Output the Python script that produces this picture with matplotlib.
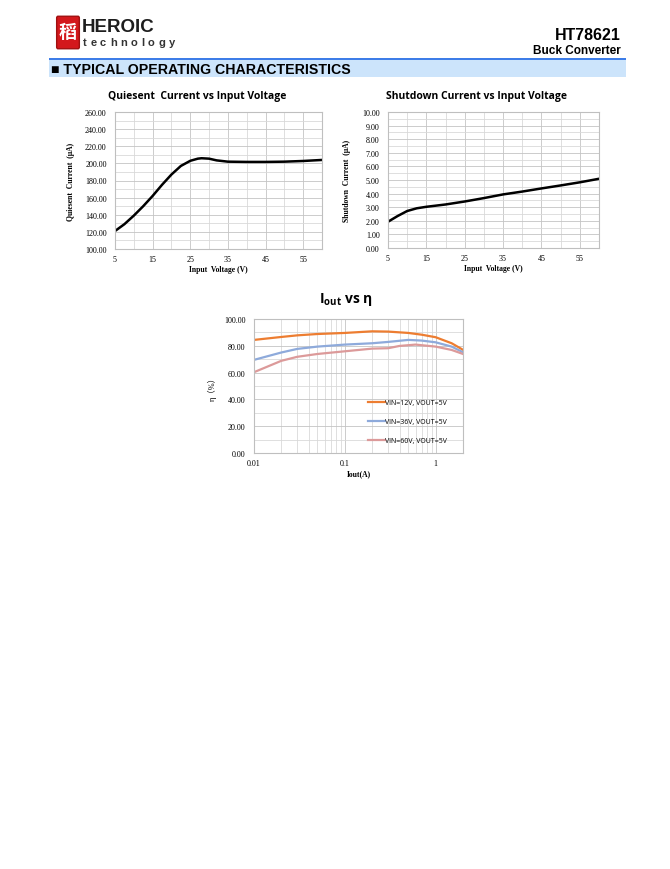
import matplotlib
matplotlib.use("Agg")
import matplotlib.pyplot as plt
from matplotlib.patches import FancyBboxPatch, Rectangle
from matplotlib.ticker import MultipleLocator, FixedLocator, NullFormatter

# Quiescent current vs input voltage
vin_q = [5, 7.5, 10, 12.5, 15, 17.5, 20, 22.5, 25, 27, 28, 30, 32, 35, 40, 45, 50, 55, 60]
iq = [121, 129, 139, 150, 162, 175, 187, 197, 203, 205.5, 206, 205.5, 203.5, 202, 201.7, 201.7, 202, 202.8, 204]

# Shutdown current vs input voltage
vin_sd = [5, 7.5, 10, 12.5, 15, 20, 25, 30, 35, 40, 45, 50, 55, 60]
isd = [1.93, 2.35, 2.72, 2.92, 3.03, 3.2, 3.42, 3.67, 3.94, 4.15, 4.38, 4.6, 4.83, 5.09]

# Efficiency vs output current
iout = [0.01, 0.02, 0.03, 0.05, 0.1, 0.2, 0.3, 0.5, 0.7, 1, 1.5, 2]
eff_12v = [84.4, 86.6, 87.8, 88.8, 89.6, 90.8, 90.6, 89.6, 88.3, 86.4, 81.9, 77.0]
eff_36v = [69.5, 75.0, 77.7, 79.4, 80.9, 81.9, 82.9, 84.4, 83.9, 82.6, 79.4, 75.2]
iout_60 = [0.01, 0.02, 0.03, 0.05, 0.1, 0.2, 0.3, 0.4, 0.6, 1, 1.5, 2]
eff_60v = [60.3, 68.8, 71.8, 73.9, 75.9, 77.9, 78.2, 79.9, 80.9, 79.4, 76.9, 73.9]
labels = ["VIN=12V, VOUT=5V", "VIN=36V, VOUT=5V", "VIN=60V, VOUT=5V"]

W, H = 670, 870
fig = plt.figure(figsize=(W / 100, H / 100), dpi=100)
fig.patch.set_facecolor("white")


def fx(x):
    return x / W


def fy(y):
    return 1 - y / H


def add_ax(l, t, r, b):
    return fig.add_axes([fx(l), fy(b), (r - l) / W, (b - t) / H])


serif = "Liberation Serif"
arial = "Liberation Sans"
calibri = ["Open Sans", "DejaVu Sans"]
plt.rcParams["mathtext.fontset"] = "custom"
plt.rcParams["mathtext.bf"] = "Open Sans:bold"
plt.rcParams["mathtext.rm"] = "Open Sans"

# header
logo = FancyBboxPatch((fx(58), fy(48)), 20 / W, 29 / H, boxstyle="round,pad=0.002",
                      transform=fig.transFigure, facecolor="#d3181c", edgecolor="#a01010")
fig.patches.append(logo)
fig.text(fx(68), fy(33), "稻", family=["Noto Sans CJK SC"], color="white",
         fontsize=13, ha="center", va="center", weight="bold")
fig.text(fx(82), fy(28), "HEROIC", family=arial, weight="bold", fontsize=13.5,
         color="#1e1e1e", va="center")

# letter-spaced "technology"
renderer = fig.canvas.get_renderer()
xpos = 83.0
for ch in "technology":
    t = fig.text(fx(xpos), fy(43), ch, family=arial, weight="bold", fontsize=8,
                 color="#333333", va="center")
    xpos += t.get_window_extent(renderer).width + 3.6

fig.text(fx(621), fy(35), "HT78621", family=arial, weight="bold", fontsize=11.5,
         ha="right", va="center")
fig.text(fx(621), fy(51), "Buck Converter", family=arial, weight="bold", fontsize=8.5,
         ha="right", va="center")
fig.patches.append(Rectangle((fx(49), fy(78)), 577 / W, 18 / H, transform=fig.transFigure,
                             facecolor="#cce4fb", edgecolor="none"))
fig.patches.append(Rectangle((fx(49), fy(60.5)), 577 / W, 1.6 / H, transform=fig.transFigure,
                             facecolor="#3d7de8", edgecolor="none"))
fig.text(fx(51), fy(69.5), "\u25A0 TYPICAL OPERATING CHARACTERISTICS", family=arial,
         weight="bold", fontsize=10.2, va="center")


def style(ax):
    for s in ax.spines.values():
        s.set_color("#bfbfbf")
        s.set_linewidth(0.8)
    ax.tick_params(which="both", length=0, labelsize=5.8)
    ax.tick_params(axis="y", pad=6)
    ax.tick_params(axis="x", pad=4)
    for lab in ax.get_xticklabels() + ax.get_yticklabels():
        lab.set_family(serif)
    ax.grid(True, which="major", color="#c4c4c4", lw=0.6)
    ax.grid(True, which="minor", color="#d9d9d9", lw=0.6)
    ax.set_axisbelow(True)


# chart 1
ax1 = add_ax(115, 113, 322, 250)
ax1.plot(vin_q, iq, color="black", lw=1.8)
ax1.set_xlim(5, 60)
ax1.set_ylim(100, 260)
ax1.xaxis.set_major_locator(FixedLocator([5, 15, 25, 35, 45, 55]))
ax1.xaxis.set_minor_locator(FixedLocator([10, 20, 30, 40, 50, 60]))
ax1.yaxis.set_major_locator(MultipleLocator(20))
ax1.yaxis.set_minor_locator(MultipleLocator(10))
ax1.set_yticklabels([f"{v:.2f}" for v in ax1.get_yticks()])
style(ax1)
ax1.set_xlabel("Input  Voltage (V)", family=serif, weight="bold", fontsize=5.5, labelpad=2)
ax1.set_ylabel("Quiesent  Current  (\u03bcA)", family=serif, weight="bold", fontsize=5.5, labelpad=7)
fig.text(fx(197), fy(97), "Quiesent  Current vs Input Voltage", family=calibri,
         weight="bold", fontsize=7.5, ha="center", va="center")

# chart 2
ax2 = add_ax(388, 113, 599, 249)
ax2.plot(vin_sd, isd, color="black", lw=1.8)
ax2.set_xlim(5, 60)
ax2.set_ylim(0, 10)
ax2.xaxis.set_major_locator(FixedLocator([5, 15, 25, 35, 45, 55]))
ax2.xaxis.set_minor_locator(FixedLocator([10, 20, 30, 40, 50, 60]))
ax2.yaxis.set_major_locator(MultipleLocator(1))
ax2.yaxis.set_minor_locator(MultipleLocator(0.5))
ax2.set_yticklabels([f"{v:.2f}" for v in ax2.get_yticks()])
style(ax2)
ax2.set_xlabel("Input  Voltage (V)", family=serif, weight="bold", fontsize=5.5, labelpad=2)
ax2.set_ylabel("Shutdown  Current  (\u03bcA)", family=serif, weight="bold", fontsize=5.5, labelpad=8)
fig.text(fx(476), fy(97), "Shutdown Current vs Input Voltage", family=calibri,
         weight="bold", fontsize=7.5, ha="center", va="center")

# chart 3
ax3 = add_ax(254, 320, 463, 454)
ax3.set_xscale("log")
l1, = ax3.plot(iout, eff_12v, color="#ed7d31", lw=1.6)
l2, = ax3.plot(iout, eff_36v, color="#8eaadb", lw=1.6)
l3, = ax3.plot(iout_60, eff_60v, color="#dc9a9a", lw=1.6)
ax3.set_xlim(0.01, 2)
ax3.set_ylim(0, 100)
ax3.set_xticks([0.01, 0.1, 1])
ax3.set_xticklabels(["0.01", "0.1", "1"])
ax3.xaxis.set_minor_formatter(NullFormatter())
ax3.yaxis.set_major_locator(MultipleLocator(20))
ax3.yaxis.set_minor_locator(MultipleLocator(10))
ax3.set_yticklabels([f"{v:.2f}" for v in ax3.get_yticks()])
style(ax3)
ax3.set_xlabel("Iout(A)", family=serif, weight="bold", fontsize=5.5, labelpad=2)
ax3.set_ylabel("\u03b7\uff08%\uff09", family=[serif, "Noto Sans CJK SC"], fontsize=6, labelpad=5)
fig.text(fx(346), fy(300), r"$\mathbf{I_{out}}$ vs η",
         family=calibri, weight="bold", fontsize=10, ha="center", va="center")
leg = ax3.legend([l1, l2, l3], labels, loc="upper left", frameon=False,
                 bbox_to_anchor=(fx(368), fy(400)), bbox_transform=fig.transFigure,
                 prop={"family": calibri, "size": 5}, handlelength=2.4,
                 handletextpad=0.1, labelspacing=1.75, borderpad=0, borderaxespad=0)

fig.savefig("out.png", dpi=100)
